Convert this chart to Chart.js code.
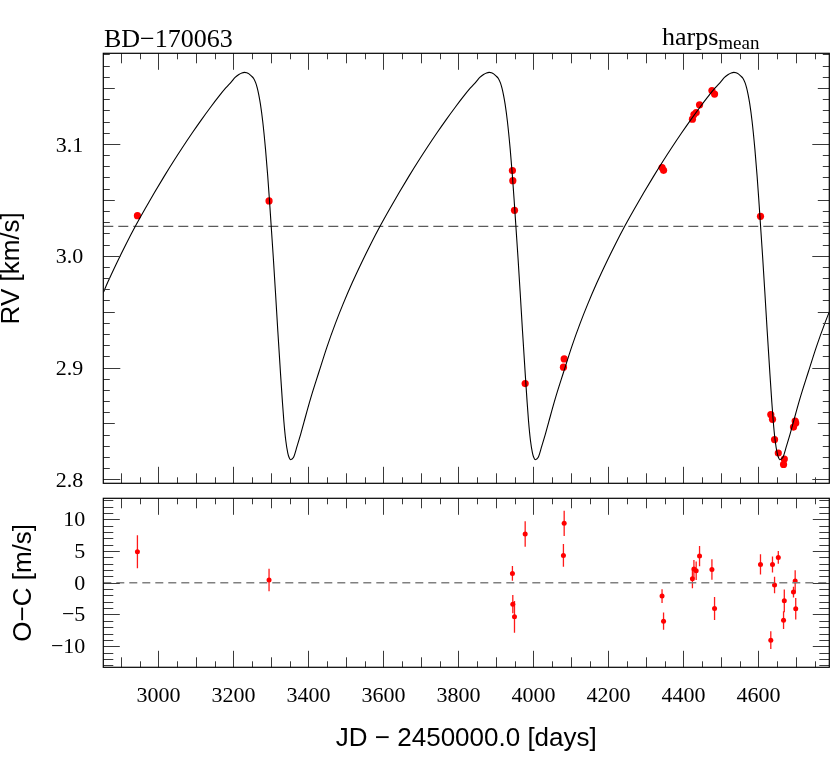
<!DOCTYPE html>
<html>
<head>
<meta charset="utf-8">
<script src="https://cdn.jsdelivr.net/npm/chart.js@4"></script>
<style>
  html, body { margin: 0; padding: 0; background: #fff; }
  #wrap { position: relative; width: 830px; height: 762px; overflow: hidden; background: #fff; }
  canvas { position: absolute; left: 0; }
  #cTop { top: 0; }
  #cBot { top: 460px; }
  .lbl { position: absolute; font-family: "Liberation Serif", "Times New Roman", serif; color: #000; white-space: nowrap; line-height: 26px; }
  #star { left: 104px; top: 26px; font-size: 26px; }
  #inst { left: 662px; top: 24px; font-size: 26px; }
  #inst sub { font-size: 19px; vertical-align: baseline; position: relative; top: 4px; }
</style>
</head>
<body>
<div id="wrap">
  <canvas id="cTop" width="830" height="530"></canvas>
  <canvas id="cBot" width="830" height="302"></canvas>
  <div class="lbl" id="star">BD−170063</div>
  <div class="lbl" id="inst">harps<sub>mean</sub></div>
</div>
<script>
// ---------------- data ----------------
const xMin = 2853, xMax = 4789;
const rvMin = 2.7965, rvMax = 3.181;
const ocMin = -13.33, ocMax = 13.33;
const rvOffset = 3.0263;

const obsDays = [2944, 3295, 3944, 3945, 3949.5, 3978, 4080, 4082, 4343, 4347, 4424, 4428, 4434, 4443, 4476, 4483, 4605.5, 4633, 4637.5, 4643, 4653, 4667, 4669, 4693.5, 4698, 4699.5];
const obsRV   = [3.0358, 3.0490, 3.0761, 3.0671, 3.0406, 2.8857, 2.9003, 2.9077, 3.0788, 3.0764, 3.1221, 3.1262, 3.1280, 3.1349, 3.1477, 3.1445, 3.0352, 2.8580, 2.8537, 2.8356, 2.8236, 2.8134, 2.8182, 2.8468, 2.8522, 2.8504];
const ocVal   = [4.9, 0.43, 1.48, -3.37, -5.37, 7.69, 4.32, 9.38, -2.1, -6.05, 0.63, 2.16, 1.9, 4.22, 2.1, -4.05, 2.9, -9.05, 2.9, -0.36, 4.0, -5.9, -2.84, -1.47, 0.27, -4.1];
const ocErr   = [2.6, 1.77, 1.16, 1.45, 2.5, 2.0, 1.8, 2.0, 1.1, 1.37, 1.5, 1.45, 1.45, 1.6, 1.6, 1.8, 1.6, 1.4, 1.26, 1.3, 1.0, 1.4, 1.8, 0.85, 1.7, 1.7];

const modelDays = [
  2853, 2864.5, 2889.5, 2914.5, 2939.5, 2964.5, 2989.5, 3014.5, 3039.5, 3064.5, 3089.5, 3114.5, 3139.5, 3159.5, 3179.5, 3194.5, 3204.5, 3214.5, 3222.5, 3229.5,
  3235.5, 3241.5, 3247.5, 3254, 3259.5, 3263.5, 3267.5, 3272, 3278, 3285.5, 3291.5, 3296, 3301, 3306.5, 3312, 3318.5, 3325.5, 3330.5, 3334.5, 3339.5, 3345, 3348.5, 3352,
  3360, 3370, 3379, 3388, 3405.5, 3428, 3450, 3472, 3492, 3517, 3542, 3567, 3592, 3617, 3642, 3667, 3692, 3717, 3742, 3767, 3792, 3812, 3832, 3847, 3857, 3867, 3875, 3882,
  3888, 3894, 3900, 3906.5, 3912, 3916, 3920, 3924.5, 3930.5, 3938, 3944, 3948.5, 3953.5, 3959, 3964.5, 3971, 3978, 3983, 3987, 3992, 3997.5, 4001, 4004.5,
  4012.5, 4022.5, 4031.5, 4040.5, 4058, 4080.5, 4102.5, 4124.5, 4144.5, 4169.5, 4194.5, 4219.5, 4244.5, 4269.5, 4294.5, 4319.5, 4344.5, 4369.5, 4394.5, 4419.5, 4444.5, 4464.5, 4484.5, 4499.5, 4509.5, 4519.5, 4527.5, 4534.5,
  4540.5, 4546.5, 4552.5, 4559, 4564.5, 4568.5, 4572.5, 4577, 4583, 4590.5, 4596.5, 4601, 4606, 4611.5, 4617, 4623.5, 4630.5, 4635.5, 4639.5, 4644.5, 4650, 4653.5, 4657,
  4665, 4675, 4684, 4693, 4710.5, 4733, 4755, 4777, 4797
];
const modelRV = [
  2.9670, 2.9760, 2.9940, 3.0110, 3.0270, 3.0420, 3.0565, 3.0705, 3.0840, 3.0970, 3.1095, 3.1215, 3.1330, 3.1418, 3.1500, 3.1555, 3.1594, 3.1620, 3.1634, 3.1639,
  3.1636, 3.1626, 3.1608, 3.1585, 3.1545, 3.1500, 3.1440, 3.1355, 3.1205, 3.0955, 3.0710, 3.0500, 3.0250, 2.9975, 2.9680, 2.9320, 2.8950, 2.8700, 2.8520, 2.8350, 2.8235, 2.8195, 2.8176,
  2.8195, 2.8300, 2.8400, 2.8510, 2.8720, 2.8960, 2.9190, 2.9395, 2.9565, 2.9760, 2.9940, 3.0110, 3.0270, 3.0420, 3.0565, 3.0705, 3.0840, 3.0970, 3.1095, 3.1215, 3.1330, 3.1418, 3.1500, 3.1555, 3.1594, 3.1620, 3.1634, 3.1639,
  3.1636, 3.1626, 3.1608, 3.1585, 3.1545, 3.1500, 3.1440, 3.1355, 3.1205, 3.0955, 3.0710, 3.0500, 3.0250, 2.9975, 2.9680, 2.9320, 2.8950, 2.8700, 2.8520, 2.8350, 2.8235, 2.8195, 2.8176,
  2.8195, 2.8300, 2.8400, 2.8510, 2.8720, 2.8960, 2.9190, 2.9395, 2.9565, 2.9760, 2.9940, 3.0110, 3.0270, 3.0420, 3.0565, 3.0705, 3.0840, 3.0970, 3.1095, 3.1215, 3.1330, 3.1418, 3.1500, 3.1555, 3.1594, 3.1620, 3.1634, 3.1639,
  3.1636, 3.1626, 3.1608, 3.1585, 3.1545, 3.1500, 3.1440, 3.1355, 3.1205, 3.0955, 3.0710, 3.0500, 3.0250, 2.9975, 2.9680, 2.9320, 2.8950, 2.8700, 2.8520, 2.8350, 2.8235, 2.8195, 2.8176,
  2.8195, 2.8300, 2.8400, 2.8510, 2.8720, 2.8960, 2.9190, 2.9395, 2.9565
];

const xTickVals  = [3000, 3200, 3400, 3600, 3800, 4000, 4200, 4400, 4600];
const rvTickVals = [2.8, 2.9, 3.0, 3.1];
const rvTickLabels = ['2.8', '2.9', '3.0', '3.1'];
const ocTickVals = [-10, -5, 0, 5, 10];
const ocTickLabels = ['−10', '−5', '0', '5', '10'];

// ---------------- helpers ----------------
const serif = "'Liberation Serif', 'Times New Roman', serif";
const sans = "'Liberation Sans', Arial, sans-serif";

function xTickLen(v) { return v % 200 === 0 ? 16.5 : (v % 100 === 0 ? 10 : 6); }
function noPad(s) { s.paddingTop = 0; s.paddingBottom = 0; s.paddingLeft = 0; s.paddingRight = 0; }

const frameTicks = {
  id: 'frameTicks',
  afterDatasetsDraw(chart, args, opts) {
    const {ctx, chartArea: ca, scales: {x, y}} = chart;
    ctx.save();
    ctx.lineWidth = 1;
    ctx.strokeStyle = '#3a3a3a';
    ctx.beginPath();
    for (let v = Math.ceil(xMin / 50) * 50; v <= xMax; v += 50) {
      const px = Math.round(x.getPixelForValue(v)) + 0.5;
      const L = xTickLen(v);
      ctx.moveTo(px, ca.bottom); ctx.lineTo(px, ca.bottom - L);
      ctx.moveTo(px, ca.top); ctx.lineTo(px, ca.top + L);
    }
    for (let k = opts.yFrom; k <= opts.yTo; k++) {
      const v = k * opts.yStep;
      if (v < y.min || v > y.max) continue;
      const py = Math.round(y.getPixelForValue(v)) + 0.5;
      const L = opts.yLen(k);
      ctx.moveTo(ca.left, py); ctx.lineTo(ca.left + L, py);
      ctx.moveTo(ca.right, py); ctx.lineTo(ca.right - L, py);
    }
    ctx.stroke();
    ctx.strokeStyle = '#000';
    ctx.lineWidth = 1.2;
    ctx.strokeRect(ca.left, ca.top, ca.right - ca.left, ca.bottom - ca.top);
    ctx.restore();
  }
};

const errorBars = {
  id: 'errorBars',
  beforeDatasetsDraw(chart) {
    const {ctx, scales: {x, y}} = chart;
    ctx.save();
    ctx.strokeStyle = 'rgba(255,0,0,0.9)';
    ctx.lineWidth = 1.3;
    ctx.beginPath();
    obsDays.forEach((d, i) => {
      const px = x.getPixelForValue(d);
      ctx.moveTo(px, y.getPixelForValue(ocVal[i] - ocErr[i]));
      ctx.lineTo(px, y.getPixelForValue(ocVal[i] + ocErr[i]));
    });
    ctx.stroke();
    ctx.restore();
  }
};

// ---------------- top: RV ----------------
new Chart(document.getElementById('cTop'), {
  type: 'scatter',
  data: {
    datasets: [
      {
        type: 'line',
        data: modelDays.map((d, i) => ({x: d, y: modelRV[i]})),
        borderColor: '#000', borderWidth: 1.1, pointRadius: 0,
        cubicInterpolationMode: 'monotone', fill: false
      },
      {
        type: 'line',
        data: [{x: xMin, y: rvOffset}, {x: xMax, y: rvOffset}],
        borderColor: '#333', borderWidth: 1, borderDash: [10, 5], pointRadius: 0, fill: false
      },
      {
        data: obsDays.map((d, i) => ({x: d, y: obsRV[i]})),
        backgroundColor: '#ff0000', borderWidth: 0, pointRadius: 3.6
      }
    ]
  },
  options: {
    responsive: false, animation: false, events: [],
    layout: {autoPadding: false, padding: {top: 53.3, right: 0.7, left: 0, bottom: 0}},
    plugins: {
      legend: {display: false}, tooltip: {enabled: false},
      frameTicks: {yFrom: 279, yTo: 318, yStep: 0.01, yLen: k => (k % 10 === 0 ? 17 : (k % 5 === 0 ? 11.5 : 6.5))}
    },
    scales: {
      x: {
        type: 'linear', min: xMin, max: xMax,
        ticks: {display: false}, grid: {display: false, drawTicks: false, tickLength: 0}, border: {display: false},
        afterFit(s) { s.height = 46.7; noPad(s); }
      },
      y: {
        type: 'linear', min: rvMin, max: rvMax,
        afterBuildTicks(s) { s.ticks = rvTickVals.map(v => ({value: v})); },
        ticks: {
          padding: 20, labelOffset: 2, color: '#000', font: {family: serif, size: 22},
          callback: (v) => rvTickLabels[rvTickVals.findIndex(t => Math.abs(t - v) < 1e-6)]
        },
        grid: {display: false, drawTicks: false, tickLength: 0}, border: {display: false},
        title: {display: true, text: 'RV [km/s]', color: '#000', font: {family: sans, size: 26}, padding: {top: -3.6, bottom: 0}},
        afterFit(s) { s.width = 103.3; noPad(s); }
      }
    }
  },
  plugins: [frameTicks]
});

// ---------------- bottom: O-C ----------------
new Chart(document.getElementById('cBot'), {
  type: 'scatter',
  data: {
    datasets: [
      {
        type: 'line',
        data: [{x: xMin, y: 0}, {x: xMax, y: 0}],
        borderColor: '#808080', borderWidth: 1.6, borderDash: [8, 5], pointRadius: 0, fill: false
      },
      {
        data: obsDays.map((d, i) => ({x: d, y: ocVal[i]})),
        backgroundColor: '#ff0000', borderWidth: 0, pointRadius: 2.5
      }
    ]
  },
  options: {
    responsive: false, animation: false, events: [],
    layout: {autoPadding: false, padding: {top: 38.3, right: 0.7, left: 0, bottom: 0}},
    plugins: {
      legend: {display: false}, tooltip: {enabled: false},
      frameTicks: {yFrom: -13, yTo: 13, yStep: 1, yLen: k => (k % 5 === 0 ? 16.5 : 10)}
    },
    scales: {
      x: {
        type: 'linear', min: xMin, max: xMax,
        afterBuildTicks(s) { s.ticks = xTickVals.map(v => ({value: v})); },
        ticks: {padding: 16, color: '#000', font: {family: serif, size: 22}, callback: v => String(v)},
        grid: {display: false, drawTicks: false, tickLength: 0}, border: {display: false},
        title: {display: true, text: 'JD − 2450000.0 [days]', color: '#000', font: {family: sans, size: 26}, padding: {top: 0, bottom: 7.4}},
        afterFit(s) { s.height = 94.7; noPad(s); }
      },
      y: {
        type: 'linear', min: ocMin, max: ocMax,
        afterBuildTicks(s) { s.ticks = ocTickVals.map(v => ({value: v})); },
        ticks: {
          padding: 18, labelOffset: 1, color: '#000', font: {family: serif, size: 22},
          callback: (v) => ocTickLabels[ocTickVals.indexOf(Math.round(v))]
        },
        grid: {display: false, drawTicks: false, tickLength: 0}, border: {display: false},
        title: {display: true, text: 'O−C [m/s]', color: '#000', font: {family: sans, size: 26}, padding: {top: 8.4, bottom: 0}},
        afterFit(s) { s.width = 103.3; noPad(s); }
      }
    }
  },
  plugins: [frameTicks, errorBars]
});
</script>
</body>
</html>
